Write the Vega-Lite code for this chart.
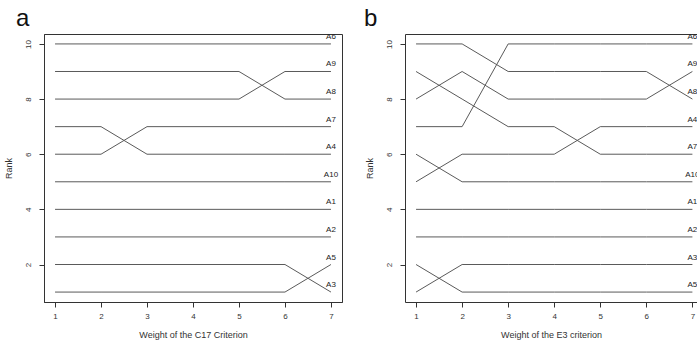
{
  "$schema": "https://vega.github.io/schema/vega-lite/v6.json",
  "padding": {"left": 3, "top": 6, "right": 0, "bottom": 4},
  "autosize": {"type": "pad"},
  "background": "white",
  "spacing": 21,
  "datasets": {
    "ranks": [
      {"panel": "a", "alt": "A6", "w": 1, "rank": 10}, {"panel": "a", "alt": "A6", "w": 2, "rank": 10}, {"panel": "a", "alt": "A6", "w": 3, "rank": 10}, {"panel": "a", "alt": "A6", "w": 4, "rank": 10}, {"panel": "a", "alt": "A6", "w": 5, "rank": 10}, {"panel": "a", "alt": "A6", "w": 6, "rank": 10}, {"panel": "a", "alt": "A6", "w": 7, "rank": 10},
      {"panel": "a", "alt": "A9", "w": 1, "rank": 8}, {"panel": "a", "alt": "A9", "w": 2, "rank": 8}, {"panel": "a", "alt": "A9", "w": 3, "rank": 8}, {"panel": "a", "alt": "A9", "w": 4, "rank": 8}, {"panel": "a", "alt": "A9", "w": 5, "rank": 8}, {"panel": "a", "alt": "A9", "w": 6, "rank": 9}, {"panel": "a", "alt": "A9", "w": 7, "rank": 9},
      {"panel": "a", "alt": "A8", "w": 1, "rank": 9}, {"panel": "a", "alt": "A8", "w": 2, "rank": 9}, {"panel": "a", "alt": "A8", "w": 3, "rank": 9}, {"panel": "a", "alt": "A8", "w": 4, "rank": 9}, {"panel": "a", "alt": "A8", "w": 5, "rank": 9}, {"panel": "a", "alt": "A8", "w": 6, "rank": 8}, {"panel": "a", "alt": "A8", "w": 7, "rank": 8},
      {"panel": "a", "alt": "A7", "w": 1, "rank": 6}, {"panel": "a", "alt": "A7", "w": 2, "rank": 6}, {"panel": "a", "alt": "A7", "w": 3, "rank": 7}, {"panel": "a", "alt": "A7", "w": 4, "rank": 7}, {"panel": "a", "alt": "A7", "w": 5, "rank": 7}, {"panel": "a", "alt": "A7", "w": 6, "rank": 7}, {"panel": "a", "alt": "A7", "w": 7, "rank": 7},
      {"panel": "a", "alt": "A4", "w": 1, "rank": 7}, {"panel": "a", "alt": "A4", "w": 2, "rank": 7}, {"panel": "a", "alt": "A4", "w": 3, "rank": 6}, {"panel": "a", "alt": "A4", "w": 4, "rank": 6}, {"panel": "a", "alt": "A4", "w": 5, "rank": 6}, {"panel": "a", "alt": "A4", "w": 6, "rank": 6}, {"panel": "a", "alt": "A4", "w": 7, "rank": 6},
      {"panel": "a", "alt": "A10", "w": 1, "rank": 5}, {"panel": "a", "alt": "A10", "w": 2, "rank": 5}, {"panel": "a", "alt": "A10", "w": 3, "rank": 5}, {"panel": "a", "alt": "A10", "w": 4, "rank": 5}, {"panel": "a", "alt": "A10", "w": 5, "rank": 5}, {"panel": "a", "alt": "A10", "w": 6, "rank": 5}, {"panel": "a", "alt": "A10", "w": 7, "rank": 5},
      {"panel": "a", "alt": "A1", "w": 1, "rank": 4}, {"panel": "a", "alt": "A1", "w": 2, "rank": 4}, {"panel": "a", "alt": "A1", "w": 3, "rank": 4}, {"panel": "a", "alt": "A1", "w": 4, "rank": 4}, {"panel": "a", "alt": "A1", "w": 5, "rank": 4}, {"panel": "a", "alt": "A1", "w": 6, "rank": 4}, {"panel": "a", "alt": "A1", "w": 7, "rank": 4},
      {"panel": "a", "alt": "A2", "w": 1, "rank": 3}, {"panel": "a", "alt": "A2", "w": 2, "rank": 3}, {"panel": "a", "alt": "A2", "w": 3, "rank": 3}, {"panel": "a", "alt": "A2", "w": 4, "rank": 3}, {"panel": "a", "alt": "A2", "w": 5, "rank": 3}, {"panel": "a", "alt": "A2", "w": 6, "rank": 3}, {"panel": "a", "alt": "A2", "w": 7, "rank": 3},
      {"panel": "a", "alt": "A5", "w": 1, "rank": 1}, {"panel": "a", "alt": "A5", "w": 2, "rank": 1}, {"panel": "a", "alt": "A5", "w": 3, "rank": 1}, {"panel": "a", "alt": "A5", "w": 4, "rank": 1}, {"panel": "a", "alt": "A5", "w": 5, "rank": 1}, {"panel": "a", "alt": "A5", "w": 6, "rank": 1}, {"panel": "a", "alt": "A5", "w": 7, "rank": 2},
      {"panel": "a", "alt": "A3", "w": 1, "rank": 2}, {"panel": "a", "alt": "A3", "w": 2, "rank": 2}, {"panel": "a", "alt": "A3", "w": 3, "rank": 2}, {"panel": "a", "alt": "A3", "w": 4, "rank": 2}, {"panel": "a", "alt": "A3", "w": 5, "rank": 2}, {"panel": "a", "alt": "A3", "w": 6, "rank": 2}, {"panel": "a", "alt": "A3", "w": 7, "rank": 1},
      {"panel": "b", "alt": "A6", "w": 1, "rank": 7}, {"panel": "b", "alt": "A6", "w": 2, "rank": 7}, {"panel": "b", "alt": "A6", "w": 3, "rank": 10}, {"panel": "b", "alt": "A6", "w": 4, "rank": 10}, {"panel": "b", "alt": "A6", "w": 5, "rank": 10}, {"panel": "b", "alt": "A6", "w": 6, "rank": 10}, {"panel": "b", "alt": "A6", "w": 7, "rank": 10},
      {"panel": "b", "alt": "A9", "w": 1, "rank": 8}, {"panel": "b", "alt": "A9", "w": 2, "rank": 9}, {"panel": "b", "alt": "A9", "w": 3, "rank": 8}, {"panel": "b", "alt": "A9", "w": 4, "rank": 8}, {"panel": "b", "alt": "A9", "w": 5, "rank": 8}, {"panel": "b", "alt": "A9", "w": 6, "rank": 8}, {"panel": "b", "alt": "A9", "w": 7, "rank": 9},
      {"panel": "b", "alt": "A8", "w": 1, "rank": 10}, {"panel": "b", "alt": "A8", "w": 2, "rank": 10}, {"panel": "b", "alt": "A8", "w": 3, "rank": 9}, {"panel": "b", "alt": "A8", "w": 4, "rank": 9}, {"panel": "b", "alt": "A8", "w": 5, "rank": 9}, {"panel": "b", "alt": "A8", "w": 6, "rank": 9}, {"panel": "b", "alt": "A8", "w": 7, "rank": 8},
      {"panel": "b", "alt": "A4", "w": 1, "rank": 5}, {"panel": "b", "alt": "A4", "w": 2, "rank": 6}, {"panel": "b", "alt": "A4", "w": 3, "rank": 6}, {"panel": "b", "alt": "A4", "w": 4, "rank": 6}, {"panel": "b", "alt": "A4", "w": 5, "rank": 7}, {"panel": "b", "alt": "A4", "w": 6, "rank": 7}, {"panel": "b", "alt": "A4", "w": 7, "rank": 7},
      {"panel": "b", "alt": "A7", "w": 1, "rank": 9}, {"panel": "b", "alt": "A7", "w": 2, "rank": 8}, {"panel": "b", "alt": "A7", "w": 3, "rank": 7}, {"panel": "b", "alt": "A7", "w": 4, "rank": 7}, {"panel": "b", "alt": "A7", "w": 5, "rank": 6}, {"panel": "b", "alt": "A7", "w": 6, "rank": 6}, {"panel": "b", "alt": "A7", "w": 7, "rank": 6},
      {"panel": "b", "alt": "A10", "w": 1, "rank": 6}, {"panel": "b", "alt": "A10", "w": 2, "rank": 5}, {"panel": "b", "alt": "A10", "w": 3, "rank": 5}, {"panel": "b", "alt": "A10", "w": 4, "rank": 5}, {"panel": "b", "alt": "A10", "w": 5, "rank": 5}, {"panel": "b", "alt": "A10", "w": 6, "rank": 5}, {"panel": "b", "alt": "A10", "w": 7, "rank": 5},
      {"panel": "b", "alt": "A1", "w": 1, "rank": 4}, {"panel": "b", "alt": "A1", "w": 2, "rank": 4}, {"panel": "b", "alt": "A1", "w": 3, "rank": 4}, {"panel": "b", "alt": "A1", "w": 4, "rank": 4}, {"panel": "b", "alt": "A1", "w": 5, "rank": 4}, {"panel": "b", "alt": "A1", "w": 6, "rank": 4}, {"panel": "b", "alt": "A1", "w": 7, "rank": 4},
      {"panel": "b", "alt": "A2", "w": 1, "rank": 3}, {"panel": "b", "alt": "A2", "w": 2, "rank": 3}, {"panel": "b", "alt": "A2", "w": 3, "rank": 3}, {"panel": "b", "alt": "A2", "w": 4, "rank": 3}, {"panel": "b", "alt": "A2", "w": 5, "rank": 3}, {"panel": "b", "alt": "A2", "w": 6, "rank": 3}, {"panel": "b", "alt": "A2", "w": 7, "rank": 3},
      {"panel": "b", "alt": "A3", "w": 1, "rank": 1}, {"panel": "b", "alt": "A3", "w": 2, "rank": 2}, {"panel": "b", "alt": "A3", "w": 3, "rank": 2}, {"panel": "b", "alt": "A3", "w": 4, "rank": 2}, {"panel": "b", "alt": "A3", "w": 5, "rank": 2}, {"panel": "b", "alt": "A3", "w": 6, "rank": 2}, {"panel": "b", "alt": "A3", "w": 7, "rank": 2},
      {"panel": "b", "alt": "A5", "w": 1, "rank": 2}, {"panel": "b", "alt": "A5", "w": 2, "rank": 1}, {"panel": "b", "alt": "A5", "w": 3, "rank": 1}, {"panel": "b", "alt": "A5", "w": 4, "rank": 1}, {"panel": "b", "alt": "A5", "w": 5, "rank": 1}, {"panel": "b", "alt": "A5", "w": 6, "rank": 1}, {"panel": "b", "alt": "A5", "w": 7, "rank": 1}
    ]
  },
  "config": {
    "font": "Liberation Sans",
    "view": {"stroke": "#333", "strokeWidth": 1},
    "axis": {
      "grid": false, "domainColor": "#333", "tickColor": "#333", "labelColor": "#333", "titleColor": "#333",
      "labelFontSize": 8, "titleFontSize": 9, "titleFontWeight": "normal", "tickSize": 5,
      "labelFont": "Liberation Sans", "titleFont": "Liberation Sans"
    }
  },
  "hconcat": [
    {
      "width": 298, "height": 268,
      "title": {"text": "a", "anchor": "start", "frame": "group", "dx": -28, "offset": -16, "baseline": "alphabetic", "fontSize": 24, "fontWeight": "normal", "font": "Liberation Sans", "color": "#111"},
      "data": {"name": "ranks"},
      "transform": [{"filter": "datum.panel == 'a'"}],
      "layer": [
        {
          "mark": {"type": "line", "color": "#5a5a5a", "strokeWidth": 1, "clip": true},
          "encoding": {
            "x": {"field": "w", "type": "quantitative", "scale": {"domain": [0.76, 7.24], "nice": false, "zero": false},
                  "axis": {"values": [1, 2, 3, 4, 5, 6, 7], "title": "Weight of the C17 Criterion", "labelAngle": 0, "labelPadding": 5, "titlePadding": 10}},
            "y": {"field": "rank", "type": "quantitative", "scale": {"domain": [0.64, 10.36], "nice": false, "zero": false},
                  "axis": {"values": [2, 4, 6, 8, 10], "title": "Rank", "labelAngle": -90, "labelPadding": 7, "titlePadding": 11}},
            "detail": {"field": "alt"},
            "order": {"field": "w"}
          }
        },
        {
          "transform": [{"filter": "datum.w == 7"}],
          "mark": {"type": "text", "dy": -5, "baseline": "alphabetic", "align": "center", "fontSize": 8, "color": "#222", "clip": true},
          "encoding": {
            "x": {"field": "w", "type": "quantitative"},
            "y": {"field": "rank", "type": "quantitative"},
            "text": {"field": "alt"}
          }
        }
      ]
    },
    {
      "width": 292, "height": 268,
      "view": {"stroke": null},
      "title": {"text": "b", "anchor": "start", "frame": "group", "dx": -41, "offset": -16, "baseline": "alphabetic", "fontSize": 24, "fontWeight": "normal", "font": "Liberation Sans", "color": "#111"},
      "data": {"name": "ranks"},
      "transform": [{"filter": "datum.panel == 'b'"}],
      "resolve": {"axis": {"x": "independent"}},
      "layer": [
        {
          "mark": {"type": "line", "color": "#5a5a5a", "strokeWidth": 1, "clip": true},
          "encoding": {
            "x": {"field": "w", "type": "quantitative", "scale": {"domain": [0.76, 7.1], "nice": false, "zero": false},
                  "axis": {"values": [1, 2, 3, 4, 5, 6, 7], "title": "Weight of the E3 criterion", "labelAngle": 0, "labelPadding": 5, "titlePadding": 10}},
            "y": {"field": "rank", "type": "quantitative", "scale": {"domain": [0.64, 10.36], "nice": false, "zero": false},
                  "axis": {"values": [2, 4, 6, 8, 10], "title": "Rank", "labelAngle": -90, "labelPadding": 7, "titlePadding": 11}},
            "detail": {"field": "alt"},
            "order": {"field": "w"}
          }
        },
        {
          "transform": [{"filter": "datum.w == 7"}],
          "mark": {"type": "text", "dy": -5, "baseline": "alphabetic", "align": "center", "fontSize": 8, "color": "#222", "clip": true},
          "encoding": {
            "x": {"field": "w", "type": "quantitative", "axis": {"orient": "top", "labels": false, "ticks": false, "title": null, "domain": true, "minExtent": 0, "maxExtent": 0, "offset": 0}},
            "y": {"field": "rank", "type": "quantitative"},
            "text": {"field": "alt"}
          }
        }
      ]
    }
  ]
}
